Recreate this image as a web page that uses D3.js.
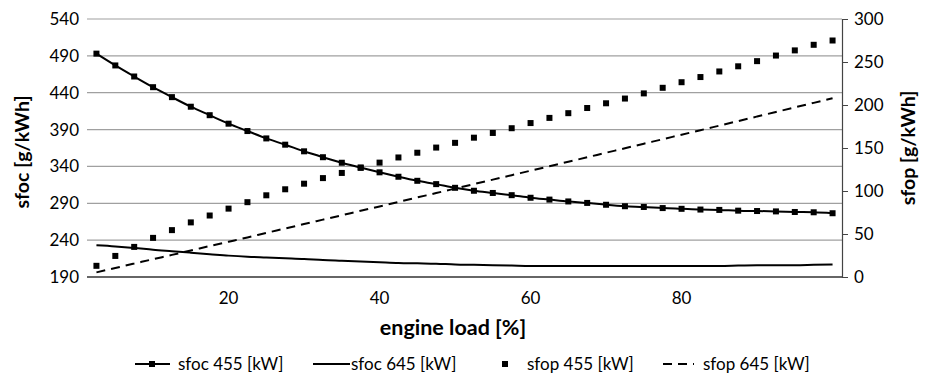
<!DOCTYPE html>
<html>
<head>
<meta charset="utf-8">
<script src="https://cdn.jsdelivr.net/npm/d3@7"></script>
<style>
  html, body { margin: 0; padding: 0; background: #fff; }
  svg { display: block; font-family: Lato, "Open Sans", sans-serif; }
</style>
</head>
<body>
<svg id="chart" width="928" height="377"></svg>
<script>
// engine load categories [%]
const loads = [2.5, 5, 7.5, 10, 12.5, 15, 17.5, 20, 22.5, 25, 27.5, 30, 32.5, 35, 37.5, 40,
  42.5, 45, 47.5, 50, 52.5, 55, 57.5, 60, 62.5, 65, 67.5, 70, 72.5, 75, 77.5, 80,
  82.5, 85, 87.5, 90, 92.5, 95, 97.5, 100];
const xLabels = [20, 40, 60, 80];

// left axis series [g/kWh]
const sfoc455 = [493, 477, 462, 447.5, 434, 421, 409.5, 398, 388, 378, 369.5, 360.5, 352.5, 345,
  338.5, 332, 326, 320.5, 316, 311, 307, 304, 301, 297.5, 295, 292.5, 290.5, 288, 286, 285,
  283.5, 282.5, 281.5, 281, 280, 279.5, 279, 278.2, 277.8, 276.5];
const sfoc645 = [233, 231.5, 229.5, 227, 225, 223, 221, 219, 217.5, 216.5, 215.5, 214.5, 213, 212,
  211, 210, 209, 208.5, 208, 207, 206.5, 206, 205.5, 205, 205, 205, 205, 205, 205, 205,
  205, 205, 205, 205, 205.5, 206, 206, 206, 206.5, 207];

// right axis series [g/kWh]
const sfop455 = [13, 24.5, 35, 45.5, 54.5, 63.5, 71.5, 79.5, 87, 95, 102, 108.5, 115, 121, 127,
  133, 139, 144.5, 150.5, 156, 162, 167.5, 173, 179, 185, 190.5, 196.5, 202, 207.5, 213.5,
  220, 226.5, 232.5, 239, 245, 251, 257.5, 263.5, 270, 275];
const sfop645 = [5.4, 10.5, 15.6, 20.7, 25.7, 30.8, 36, 41, 46, 51.3, 56.4, 61.6, 66.7, 71.8, 77,
  82, 87.3, 92.5, 97.6, 102.8, 108, 113.2, 118.4, 123.6, 128.8, 134, 139.2, 144.5, 149.7, 155,
  160.2, 165.5, 170.7, 176, 181.3, 186.6, 191.9, 197.2, 202.5, 207.8];

const leftTicks = [190, 240, 290, 340, 390, 440, 490, 540];
const rightTicks = [0, 50, 100, 150, 200, 250, 300];
const legendNames = ['sfoc 455 [kW]', 'sfoc 645 [kW]', 'sfop 455 [kW]', 'sfop 645 [kW]'];

const svg = d3.select('#chart');
const L = 87, R = 842, T = 19, B = 277;
const ink = '#000', grid = '#a0a0a0', axisInk = '#444';

const x = d3.scalePoint().domain(loads).range([L, R]).padding(0.5);
const yL = d3.scaleLinear().domain([190, 540]).range([B, T]);
const yR = d3.scaleLinear().domain([0, 300]).range([B, T]);

// gridlines (left axis)
svg.append('g').selectAll('line').data(leftTicks.slice(1)).join('line')
  .attr('x1', L).attr('x2', R).attr('y1', d => yL(d)).attr('y2', d => yL(d))
  .attr('stroke', grid).attr('stroke-width', 1.2);

// left axis labels
const gl = svg.append('g').attr('transform', `translate(${L},0)`)
  .call(d3.axisLeft(yL).tickValues(leftTicks).tickSize(0).tickPadding(8));
gl.select('.domain').remove();
gl.selectAll('text').attr('font-family', 'Lato, sans-serif').attr('font-size', 17).attr('fill', ink);

// right axis
const gr = svg.append('g').attr('transform', `translate(${R},0)`)
  .call(d3.axisRight(yR).tickValues(rightTicks).tickSize(6).tickPadding(6));
gr.select('.domain').attr('stroke', axisInk).attr('stroke-width', 1.2);
gr.selectAll('line').attr('stroke', axisInk);
gr.selectAll('text').attr('font-family', 'Lato, sans-serif').attr('font-size', 17).attr('fill', ink);

// bottom axis
svg.append('line').attr('x1', L).attr('x2', R).attr('y1', B).attr('y2', B)
  .attr('stroke', '#333').attr('stroke-width', 1.5);
svg.append('g').selectAll('text').data(xLabels).join('text')
  .attr('x', d => x(d)).attr('y', B + 27).attr('text-anchor', 'middle')
  .attr('font-size', 17).attr('fill', ink).text(d => d);

// axis titles
svg.append('text').attr('x', 453).attr('y', 335).attr('text-anchor', 'middle')
  .attr('font-size', 21.5).attr('font-weight', 700).attr('fill', ink).text('engine load [%]');
svg.append('text').attr('transform', `translate(29,${(T + B) / 2 + 4}) rotate(-90)`)
  .attr('text-anchor', 'middle').attr('font-size', 19.5).attr('font-weight', 700)
  .attr('fill', ink).text('sfoc [g/kWh]');
svg.append('text').attr('transform', `translate(915,${(T + B) / 2}) rotate(-90)`)
  .attr('text-anchor', 'middle').attr('font-size', 19.5).attr('font-weight', 700)
  .attr('fill', ink).text('sfop [g/kWh]');

// series
const lineL = d3.line().x((d, i) => x(loads[i])).y(d => yL(d)).curve(d3.curveMonotoneX);
const lineR = d3.line().x((d, i) => x(loads[i])).y(d => yR(d)).curve(d3.curveMonotoneX);

svg.append('path').datum(sfoc645).attr('d', lineL)
  .attr('fill', 'none').attr('stroke', ink).attr('stroke-width', 2);
svg.append('path').datum(sfop645).attr('d', lineR)
  .attr('fill', 'none').attr('stroke', ink).attr('stroke-width', 2)
  .attr('stroke-dasharray', '9 6');
svg.append('path').datum(sfoc455).attr('d', lineL)
  .attr('fill', 'none').attr('stroke', ink).attr('stroke-width', 2);

const ms = 6;
svg.append('g').selectAll('rect').data(sfoc455).join('rect')
  .attr('x', (d, i) => x(loads[i]) - ms / 2).attr('y', d => yL(d) - ms / 2)
  .attr('width', ms).attr('height', ms).attr('fill', ink);
svg.append('g').selectAll('rect').data(sfop455).join('rect')
  .attr('x', (d, i) => x(loads[i]) - ms / 2).attr('y', d => yR(d) - ms / 2)
  .attr('width', ms).attr('height', ms).attr('fill', ink);

// legend
const ly = 364;
const lg = svg.append('g');
// sfoc 455
lg.append('line').attr('x1', 135).attr('x2', 170).attr('y1', ly).attr('y2', ly)
  .attr('stroke', ink).attr('stroke-width', 2);
lg.append('rect').attr('x', 152 - ms / 2).attr('y', ly - ms / 2).attr('width', ms).attr('height', ms).attr('fill', ink);
// sfoc 645
lg.append('line').attr('x1', 313).attr('x2', 350).attr('y1', ly).attr('y2', ly)
  .attr('stroke', ink).attr('stroke-width', 2);
// sfop 455
lg.append('rect').attr('x', 505 - ms / 2).attr('y', ly - ms / 2).attr('width', ms).attr('height', ms).attr('fill', ink);
// sfop 645
lg.append('line').attr('x1', 663).attr('x2', 694).attr('y1', ly).attr('y2', ly)
  .attr('stroke', ink).attr('stroke-width', 2).attr('stroke-dasharray', '9 6');

const legendX = [178, 351, 527, 703];
lg.selectAll('text.lt').data(legendNames).join('text').attr('class', 'lt')
  .attr('x', (d, i) => legendX[i]).attr('y', ly + 6)
  .attr('font-size', 17).attr('fill', ink).text(d => d);
</script>
</body>
</html>
